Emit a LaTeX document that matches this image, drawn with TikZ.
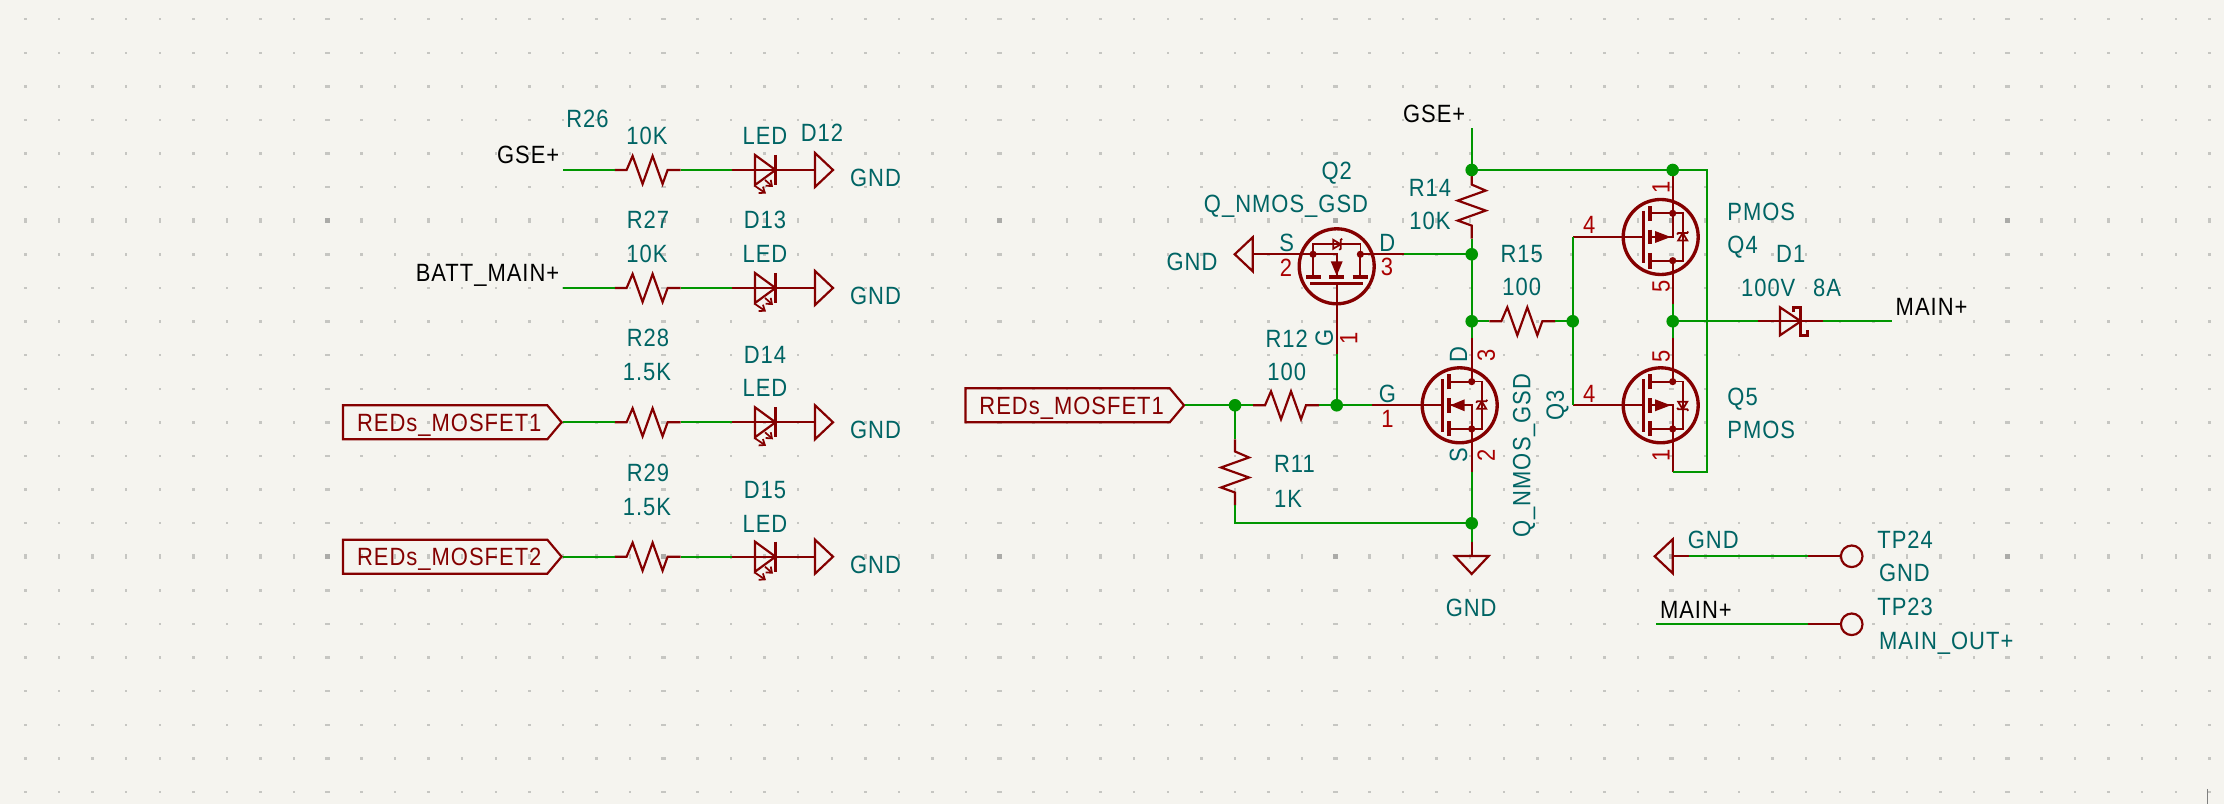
\documentclass[tikz,border=0pt]{standalone}
\usepackage{fontspec}
\usetikzlibrary{arrows.meta,shapes.symbols}
\newfontfamily\kifont[FakeStretch=0.88,LetterSpace=4]{Liberation Sans}
\definecolor{sheetbg}{HTML}{F5F4EF}
\definecolor{griddot}{HTML}{C6C6C2}
\definecolor{gridmajor}{HTML}{ABABA8}
\definecolor{wirecol}{HTML}{009600}
\definecolor{symcol}{HTML}{840000}
\definecolor{pincol}{HTML}{A90000}
\definecolor{fieldcol}{HTML}{006464}
\tikzset{
  wire/.style={draw=wirecol,line width=0.58pt},
  sym/.style={draw=symcol,line width=0.62pt,line join=miter},
  symthin/.style={draw=symcol,line width=0.5pt},
  symfat/.style={draw=symcol,line width=0.95pt},
  txt/.style={font=\kifont\fontsize{7.1}{9}\selectfont,text=fieldcol,inner sep=0pt,text height=5.1pt,text depth=0pt},
  pinno/.style={txt,text=pincol},
  netname/.style={txt,text=black},
  hierlabel/.style={signal,signal to=east,signal pointer angle=100,draw=symcol,line width=0.62pt,
    minimum width=218.5*0.01cm,minimum height=34*0.01cm,anchor=east,
    font=\kifont\fontsize{7.1}{9}\selectfont,text=symcol,inner sep=0pt,text height=5.1pt,text depth=0pt,
    execute at begin node={\hspace{2.3pt}}},
  gateleftup/.style={x={(0cm,0.01cm)},y={(-0.01cm,0cm)}},
  gateleftdn/.style={x={(0cm,-0.01cm)},y={(-0.01cm,0cm)}},
  resistor/.pic={
    \coordinate (-a) at (-33,0);
    \coordinate (-b) at (33,0);
    \draw[sym] (-a) -- (-21,0) -- (-15,-14) -- (-5,14) -- (5,-14) -- (15,14) -- (20,0) -- (-b);
  },
  led/.pic={
    \coordinate (-a) at (-33,0);
    \coordinate (-b) at (50,0);
    \draw[sym] (-a) -- (-b);
    \draw[sym] (-10,-15) -- (-10,15) -- (10.5,0) -- cycle;
    \draw[symfat] (10.5,-15) -- (10.5,15);
    \draw[symthin,-{Straight Barb[length=1.4pt,width=2.2pt]}] (-10,16) -- (1,23.5);
    \draw[symthin,-{Straight Barb[length=1.4pt,width=2.2pt]}] (0,10) -- (8,17);
  },
  gndsym/.pic={
    \coordinate (-o) at (0,0);
    \draw[sym] (0,-17) -- (0,17) -- (18,0) -- cycle;
  },
  schottky/.pic={
    \coordinate (-a) at (-32.5,0);
    \coordinate (-b) at (32.5,0);
    \draw[sym] (-a) -- (-b);
    \draw[sym] (-10.8,-14) -- (-10.8,14) -- (10,0) -- cycle;
    \draw[symfat] (2.5,-9) -- (2.5,-13.5) -- (10,-13.5) -- (10,14) -- (16.5,14) -- (16.5,9);
  },
  testpoint/.pic={
    \coordinate (-a) at (-43.4,0);
    \draw[sym] (-a) -- (-10.8,0);
    \draw[sym] (0,0) circle (10.8);
  },
  nmos/.pic={\mosbody{9.5}{-5}{1}},
  pmos/.pic={\mosbody{-10}{5.7}{-1}},
}
\newcommand{\mosbody}[3]{
  \coordinate (-s) at (-67,-12);
  \coordinate (-d) at (67,-12);
  \coordinate (-g) at (0,88);
  \draw[symfat] (0,0) circle (37.5);
  \draw[symfat] (-30.7,10.7) -- (-16,10.7) (-7.3,10.7) -- (7.3,10.7) (16,10.7) -- (31.7,10.7);
  \draw[symfat] (-26.3,17.3) -- (26.3,17.3);
  \draw[sym] (0,17.3) -- (-g);
  \draw[sym] (-s) -- (-23.67,-12) -- (-23.67,10.7);
  \draw[sym] (-d) -- (23.67,-12) -- (23.67,10.7);
  \draw[symthin] (-23.67,-12) -- (-23.67,-22) -- (23.67,-22) -- (23.67,-12);
  \draw[sym] (-23.67,-12) -- (0,-12) -- (0,10.7);
  \fill[symcol] (0,#1) -- (-6,#2) -- (6,#2) -- cycle;
  \fill[symcol] (-23.67,-12) circle (3.6) (23.67,-12) circle (3.6);
  \draw[symthin] ({#3*-3.5},-26.5) -- ({#3*-3.5},-17.5) -- ({#3*4},-22) -- cycle;
  \draw[symthin] ({#3*5.5},-27.5) -- ({#3*4},-26.5) -- ({#3*4},-17.5) -- ({#3*2.5},-16.5);
}

\begin{document}
\begin{tikzpicture}[x=0.01cm,y=-0.01cm]
  \useasboundingbox (0,0) rectangle (2224,804);
  \fill[sheetbg] (0,0) rectangle (2224,804);
  % grid
  \foreach \i in {0,...,65} {
    \foreach \j in {0,...,23} {
      \pgfmathsetmacro\gw{(mod(\i,10)==9) ? 2.6 : 1.2}
      \pgfmathsetmacro\gh{(mod(\j,10)==6) ? 2.6 : 1.2}
      \pgfmathsetmacro\gx{25.3+33.6*\i}
      \pgfmathsetmacro\gy{19.3+33.6*\j}
      \fill[griddot] (\gx-\gw,\gy-\gh) rectangle (\gx+\gw,\gy+\gh);
    }
  }
  \foreach \i in {9,19,...,59} {
    \foreach \j in {6,16} {
      \pgfmathsetmacro\gx{25.3+33.6*\i}
      \pgfmathsetmacro\gy{19.3+33.6*\j}
      \fill[gridmajor] (\gx-2.6,\gy-2.6) rectangle (\gx+2.6,\gy+2.6);
    }
  }
  \coordinate (mark) at (2207.3,789);
  \coordinate (markend) at (2207.3,804);
  \draw[gray,line width=0.4pt] (mark) -- (markend);

  % LED rows
  \foreach \r/\y in {a/170,b/288,c/422.3,d/556.7} {
    \coordinate (in\r) at (563,\y);
    \pic (res\r) at (647.6,\y) {resistor};
    \pic (led\r) at (765,\y) {led};
    \pic (gnd\r) at (815,\y) {gndsym};
    \draw[wire] (in\r) -- (res\r-a);
    \draw[wire] (res\r-b) -- (led\r-a);
  }
  \node[netname,anchor=east] (gsea) at (560,155) {GSE+};
  \node[netname,anchor=east] (batt) at (560,273) {BATT\_MAIN+};
  \node[hierlabel] (reda) at (563,422.3) {REDs\_MOSFET1};
  \node[hierlabel] (redb) at (563,556.7) {REDs\_MOSFET2};
  \node[txt] (r26) at (587.5,119) {R26};
  \node[txt] (v26) at (647,135.7) {10K};
  \node[txt] (d12v) at (765,135.7) {LED};
  \node[txt] (d12) at (822,133) {D12};
  \node[txt] (g12) at (875.5,178) {GND};
  \node[txt] (r27) at (648,220) {R27};
  \node[txt] (d13) at (765,220) {D13};
  \node[txt] (v27) at (647,253.7) {10K};
  \node[txt] (d13v) at (765,253.7) {LED};
  \node[txt] (g13) at (875.5,296) {GND};
  \node[txt] (r28) at (648,338) {R28};
  \node[txt] (d14) at (765,355) {D14};
  \node[txt] (v28) at (647,371.7) {1.5K};
  \node[txt] (d14v) at (765,388) {LED};
  \node[txt] (g14) at (875.5,430) {GND};
  \node[txt] (r29) at (648,472.7) {R29};
  \node[txt] (d15) at (765,489.3) {D15};
  \node[txt] (v29) at (647,506.7) {1.5K};
  \node[txt] (d15v) at (765,523.3) {LED};
  \node[txt] (g15) at (875.5,565) {GND};

  % switch
  \coordinate (gsein) at (1471.7,128.3);
  \coordinate (jtop) at (1471.7,170);
  \coordinate (jd) at (1471.7,254.3);
  \coordinate (jr) at (1471.7,321.3);
  \coordinate (js) at (1471.7,523.3);
  \coordinate (gpin) at (1471.7,541.7);
  \coordinate (jin) at (1235,405.3);
  \coordinate (jgate) at (1336.7,405.3);
  \coordinate (rcorner) at (1235,523.3);
  \coordinate (jfour) at (1672.7,170);
  \coordinate (jm) at (1672.7,321.3);
  \coordinate (jg) at (1572.7,321.3);
  \coordinate (bodya) at (1706.7,170);
  \coordinate (bodyb) at (1706.7,472.3);
  \coordinate (mainout) at (1891.7,321.3);
  \coordinate (tpgpin) at (1689,556.3);
  \coordinate (tpmain) at (1656,624.3);

  \pic (qtwo) at (1336.7,266.3) {nmos};
  \path (1459.7,405.3) pic[gateleftup] (qthree) {nmos};
  \path (1660.7,237) pic[gateleftdn] (qfour) {pmos};
  \path (1660.7,405.3) pic[gateleftup] (qfive) {pmos};
  \pic[rotate=-90] (rfourteen) at (1471.7,205.6) {resistor};
  \pic (rfifteen) at (1522.3,321.3) {resistor};
  \pic (rtwelve) at (1286,405.3) {resistor};
  \pic[rotate=-90] (releven) at (1235,472.5) {resistor};
  \pic (done) at (1790.8,321.3) {schottky};
  \pic[rotate=180] (gndtwo) at (1252.7,254.3) {gndsym};
  \pic[rotate=-90] (gndthree) at (1471.7,556) {gndsym};
  \pic[rotate=180] (gndtp) at (1672.7,556.3) {gndsym};
  \pic (tpa) at (1851.7,556.3) {testpoint};
  \pic (tpb) at (1851.7,624.3) {testpoint};
  \node[hierlabel] (redc) at (1185.4,405.3) {REDs\_MOSFET1};

  \draw[sym] (gndtwo-o) -- (qtwo-s);
  \draw[sym] (gpin) -- (gndthree-o);
  \draw[sym] (gndtp-o) -- (tpgpin);
  \draw[wire] (gsein) -- (jtop) -- (rfourteen-a);
  \draw[wire] (rfourteen-b) -- (jd) -- (jr) -- (qthree-d);
  \draw[wire] (qtwo-d) -- (jd);
  \draw[wire] (qthree-s) -- (js) -- (gpin);
  \draw[wire] (jr) -- (rfifteen-a);
  \draw[wire] (rfifteen-b) -- (jg);
  \draw[wire] (qfour-g) -- (jg) -- (qfive-g);
  \draw[wire] (jtop) -- (bodya) -- (bodyb) -- (qfive-s);
  \draw[wire] (qfour-d) -- (jm) -- (qfive-d);
  \draw[wire] (jm) -- (done-a);
  \draw[wire] (done-b) -- (mainout);
  \draw[wire] (redc.east) -- (jin) -- (rtwelve-a);
  \draw[wire] (rtwelve-b) -- (jgate) -- (qthree-g);
  \draw[wire] (qtwo-g) -- (jgate);
  \draw[wire] (jin) -- (releven-a);
  \draw[wire] (releven-b) -- (rcorner) -- (js);
  \draw[wire] (tpgpin) -- (tpa-a);
  \draw[wire] (tpmain) -- (tpb-a);
  \foreach \c in {jtop,jd,jr,js,jin,jgate,jfour,jm,jg} {
    \fill[wirecol] (\c) circle (6.3);
  }

  \node[netname,anchor=east] (gseb) at (1466,113.3) {GSE+};
  \node[txt] (qtwolbl) at (1336.7,171) {Q2};
  \node[txt] (qtwoval) at (1286,203.3) {Q\_NMOS\_GSD};
  \node[txt] (gndtwot) at (1192,262) {GND};
  \node[txt] (stwo) at (1286.7,242.7) {S};
  \node[pinno] (ptwo) at (1286,267.7) {2};
  \node[txt] (dtwo) at (1387.3,242.7) {D};
  \node[pinno] (pthr) at (1387,266.7) {3};
  \node[txt,rotate=90] (gtwo) at (1324,338.3) {G};
  \node[pinno,rotate=90] (pone) at (1348.3,338.3) {1};
  \node[txt] (r14) at (1430,187.3) {R14};
  \node[txt] (v14) at (1430,220.7) {10K};
  \node[txt] (r15) at (1521.7,254) {R15};
  \node[txt] (v15) at (1521.7,286.7) {100};
  \node[txt] (r12) at (1286.7,338.3) {R12};
  \node[txt] (v12) at (1286.8,371.7) {100};
  \node[txt,anchor=west] (r11) at (1273.4,464) {R11};
  \node[txt,anchor=west] (v11) at (1273.4,498.3) {1K};
  \node[txt] (gthree) at (1387.4,393.3) {G};
  \node[pinno] (pgthree) at (1387.4,418.3) {1};
  \node[txt,rotate=90] (dthree) at (1458.2,355) {D};
  \node[pinno,rotate=90] (pdthree) at (1485.8,355) {3};
  \node[txt,rotate=90] (sthree) at (1458.2,455) {S};
  \node[pinno,rotate=90] (psthree) at (1485.8,455) {2};
  \node[txt,rotate=90] (qthreeval) at (1521.4,455.5) {Q\_NMOS\_GSD};
  \node[txt,rotate=90] (qthreelbl) at (1555,405.7) {Q3};
  \node[txt] (gndthreet) at (1471.2,607.7) {GND};
  \node[pinno,rotate=90] (pfa) at (1660.7,187.7) {1};
  \node[pinno,rotate=90] (pfb) at (1660.7,286.7) {5};
  \node[pinno,rotate=90] (pfc) at (1660.7,356) {5};
  \node[pinno,rotate=90] (pfd) at (1660.7,455) {1};
  \node[pinno] (pga) at (1589.3,225) {4};
  \node[pinno] (pgb) at (1589.3,393.3) {4};
  \node[txt,anchor=west] (qfourval) at (1726.7,211.7) {PMOS};
  \node[txt,anchor=west] (qfourlbl) at (1726.7,245) {Q4};
  \node[txt,anchor=west] (qfivelbl) at (1726.7,396.7) {Q5};
  \node[txt,anchor=west] (qfiveval) at (1726.7,429.3) {PMOS};
  \node[txt] (d1) at (1790.7,254) {D1};
  \node[txt] (d1v) at (1791,287.7) {100V\hspace{3pt} 8A};
  \node[netname,anchor=west] (maina) at (1895,306.7) {MAIN+};
  \node[txt] (gndtpt) at (1713.3,539.3) {GND};
  \node[txt,anchor=west] (tp24) at (1876.7,539.3) {TP24};
  \node[txt,anchor=west] (tp24v) at (1878.3,572.7) {GND};
  \node[netname,anchor=west] (mainb) at (1659.3,609.3) {MAIN+};
  \node[txt,anchor=west] (tp23) at (1876.7,606.7) {TP23};
  \node[txt,anchor=west] (tp23v) at (1878.3,640.7) {MAIN\_OUT+};
\end{tikzpicture}
\end{document}
